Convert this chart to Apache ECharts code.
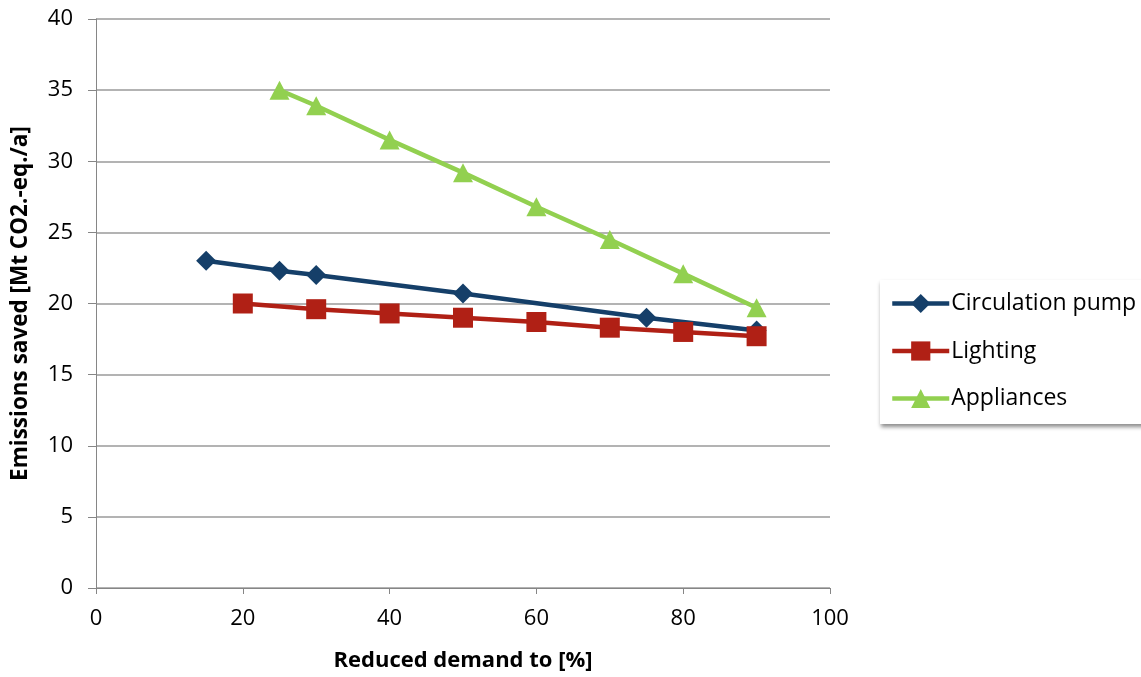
<!DOCTYPE html>
<html>
<head>
<meta charset="utf-8">
<style>
  html, body { margin: 0; padding: 0; background: #fff; }
  #chart { width: 1141px; height: 677px; }
</style>
<script src="https://cdn.jsdelivr.net/npm/echarts@6/dist/echarts.min.js"></script>
</head>
<body>
<div id="chart"></div>
<script>
// Reduced demand (%) and emissions saved (Mt CO2-eq./a) per measure
const pumpX = [15, 25, 30, 50, 75, 90];
const pumpY = [23.0, 22.3, 22.0, 20.7, 19.0, 18.1];
const lightingX = [20, 30, 40, 50, 60, 70, 80, 90];
const lightingY = [20.0, 19.6, 19.3, 19.0, 18.7, 18.3, 18.0, 17.7];
const appliancesX = [25, 30, 40, 50, 60, 70, 80, 90];
const appliancesY = [35.0, 33.9, 31.5, 29.2, 26.8, 24.5, 22.1, 19.7];
const seriesNames = ['Circulation pump', 'Lighting', 'Appliances'];

const pair = (xs, ys) => xs.map((x, i) => [x, ys[i]]);
const FONT = 'Open Sans';

const chart = echarts.init(document.getElementById('chart'));
chart.setOption({
  animation: false,
  textStyle: { fontFamily: FONT },
  grid: { left: 96, right: 311, top: 19, bottom: 89, containLabel: false },
  xAxis: {
    type: 'value', min: 0, max: 100, interval: 20,
    name: 'Reduced demand to [%]', nameLocation: 'middle', nameGap: 62,
    nameTextStyle: { fontSize: 22, fontWeight: 'bold', color: '#000', fontFamily: FONT },
    axisLine: { show: true, onZero: false, lineStyle: { color: '#868686', width: 1 } },
    axisTick: { show: true, length: 6, lineStyle: { color: '#868686' } },
    axisLabel: { fontSize: 22, color: '#000', margin: 20 },
    splitLine: { show: false }
  },
  yAxis: {
    type: 'value', min: 0, max: 40, interval: 5,
    name: 'Emissions saved [Mt CO2.-eq./a]', nameLocation: 'middle', nameGap: 64,
    nameTextStyle: { fontSize: 22.5, fontWeight: 'bold', color: '#000', fontFamily: FONT },
    axisLine: { show: true, lineStyle: { color: '#868686', width: 1 } },
    axisTick: { show: true, length: 8, lineStyle: { color: '#868686' } },
    axisLabel: { fontSize: 22, color: '#000', margin: 23 },
    splitLine: { show: true, lineStyle: { color: '#9a9a9a', width: 1.5 } }
  },
  legend: {
    orient: 'vertical', left: 880, top: 280,
    padding: [12, 40, 14, 10],
    itemGap: 24.5, itemWidth: 57, itemHeight: 24,
    backgroundColor: '#fff',
    shadowColor: 'rgba(0,0,0,0.45)', shadowBlur: 4, shadowOffsetX: 1, shadowOffsetY: 3,
    lineStyle: { width: 4.5 },
    textStyle: { fontSize: 23, color: '#000', fontFamily: FONT, padding: [0, 0, 0, -3] },
    data: seriesNames
  },
  series: [
    {
      name: seriesNames[0], type: 'line', data: pair(pumpX, pumpY),
      symbol: 'diamond', symbolSize: 20,
      itemStyle: { color: '#153f69' }, lineStyle: { width: 4.5, color: '#153f69' }, z: 3
    },
    {
      name: seriesNames[1], type: 'line', data: pair(lightingX, lightingY),
      symbol: 'rect', symbolSize: 20,
      itemStyle: { color: '#b02015' }, lineStyle: { width: 4.5, color: '#b02015' }, z: 4
    },
    {
      name: seriesNames[2], type: 'line', data: pair(appliancesX, appliancesY),
      symbol: 'triangle', symbolSize: [20, 19],
      itemStyle: { color: '#92d050' }, lineStyle: { width: 4.5, color: '#92d050' }, z: 5
    }
  ]
});
</script>
</body>
</html>
